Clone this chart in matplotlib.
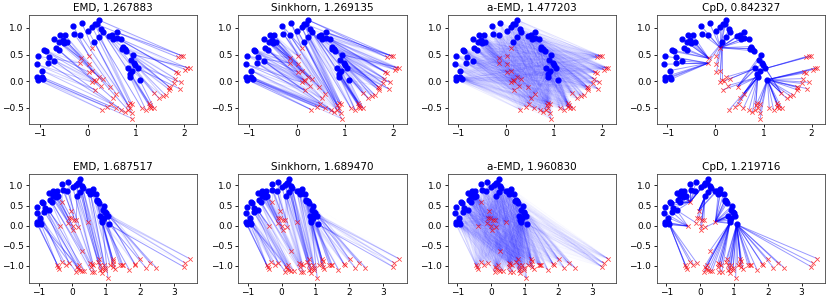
import numpy as np
import matplotlib
matplotlib.use("Agg")
import matplotlib.pyplot as plt
from matplotlib.collections import LineCollection

# source cloud (blue dots), same in both rows
blue_x = [-1.04, -1.06, -0.95, -1.05, -1.04, -0.95, -0.92, -0.90, -0.87, -0.81,
          -0.83, -0.69, -0.66, -0.60, -0.69, -0.57, -0.59, -0.52, -0.47, -0.43,
          -0.50, -0.30, -0.28, -0.15, -0.12, 0.01, 0.10, 0.15, 0.19, 0.23,
          0.28, 0.31, 0.14, 0.23, 0.45, 0.51, 0.60, 0.53, 0.60, 0.69,
          0.73, 0.72, 0.77, 0.80, 0.94, 0.90, 0.97, 0.99, 0.83, 0.92,
          1.04, 0.87, 0.88, 1.08]
blue_y = [0.47, 0.32, 0.20, 0.08, 0.03, 0.08, 0.04, 0.59, 0.56, 0.45,
          0.34, 0.38, 0.63, 0.58, 0.80, 0.86, 0.73, 0.78, 0.87, 0.74,
          0.71, 1.04, 0.89, 0.87, 1.09, 0.95, 1.01, 1.07, 1.07, 1.15,
          0.98, 0.93, 0.73, 0.84, 0.85, 0.87, 0.92, 0.79, 0.81, 0.79,
          0.65, 0.61, 0.61, 0.57, 0.50, 0.40, 0.34, 0.31, 0.24, 0.20,
          0.24, 0.14, 0.08, 0.03]

# target cloud, top row (second moon)
red1_x = [-0.14, -0.15, 0.10, 0.02, 0.02, 0.02, 0.10, 0.23, 0.14, 0.17,
          0.10, 0.31, 0.27, 0.16, 0.46, 0.59, 0.52, 0.48, 0.41, 0.29,
          0.58, 0.70, 0.77, 0.84, 0.87, 0.88, 0.92, 0.83, 0.92, 0.93,
          1.12, 1.21, 1.28, 1.30, 1.29, 1.32, 1.38, 1.37, 1.48, 1.56,
          1.62, 1.70, 1.71, 1.69, 1.80, 1.82, 1.84, 1.88, 1.91, 1.94,
          2.03, 2.07, 2.12, 1.88, 1.95, 1.99]
red1_y = [0.43, 0.34, 0.63, 0.48, 0.33, 0.17, 0.19, 0.08, 0.03, 0.00,
          -0.02, 0.05, -0.08, -0.16, -0.10, -0.23, -0.32, -0.42, -0.48, -0.53,
          -0.51, -0.53, -0.58, -0.44, -0.40, -0.50, -0.43, -0.53, -0.60, -0.70,
          -0.50, -0.54, -0.40, -0.45, -0.48, -0.50, -0.51, -0.22, -0.32, -0.28,
          -0.26, -0.16, -0.12, -0.10, -0.04, 0.05, 0.17, 0.16, -0.14, -0.02,
          0.22, 0.25, 0.25, 0.45, 0.48, 0.47]

# target cloud, bottom row
red2_x = [-0.30, -0.05, -0.10, -0.04, 0.05, 0.11, -0.12, 0.01, 0.03, 0.15,
          0.45, -0.37, 0.28, -0.45, -0.42, -0.39, -0.31, -0.20, -0.10, 0.13,
          0.20, 0.16, 0.23, 0.11, 0.28, 0.35, 0.52, 0.57, 0.54, 0.62,
          0.57, 0.64, 0.75, 0.80, 0.82, 0.87, 0.82, 0.92, 0.97, 0.87,
          0.97, 1.05, 1.11, 1.19, 1.21, 1.19, 1.21, 1.26, 1.41, 1.46,
          1.49, 1.68, 1.84, 1.86, 2.01, 2.17, 2.30, 2.48, 3.29, 3.34, 3.47]
red2_y = [0.59, 0.37, 0.19, 0.20, 0.15, 0.15, 0.07, 0.00, -0.10, -0.04,
          0.10, -0.01, -0.63, -0.98, -1.02, -1.07, -0.90, -0.97, -0.93, -1.02,
          -0.98, -1.07, -1.09, -1.15, -1.13, -1.12, -0.92, -0.94, -1.02, -0.98,
          -1.15, -1.15, -0.90, -0.84, -0.98, -1.07, -1.09, -0.98, -1.04, -1.17,
          -1.11, -1.30, -0.98, -0.94, -1.02, -0.82, -0.88, -1.07, -0.97, -0.98,
          -0.97, -1.09, -0.94, -0.98, -0.84, -1.04, -0.93, -1.04, -1.02, -0.93, -0.82]

methods = ["EMD", "Sinkhorn", "a-EMD", "CpD"]
scores_top = [1.267883, 1.269135, 1.477203, 0.842327]
scores_bottom = [1.687517, 1.689470, 1.960830, 1.219716]


def logsumexp(m, axis):
    mx = m.max(axis=axis, keepdims=True)
    return (mx + np.log(np.exp(m - mx).sum(axis=axis, keepdims=True))).squeeze(axis)


def sinkhorn_plan(X, Y, eps):
    """ entropic OT plan in log domain with eps-scaling, uniform weights """
    C = ((X[:, None, :] - Y[None, :, :]) ** 2).sum(-1)
    la = np.full(len(X), -np.log(len(X)))
    lb = np.full(len(Y), -np.log(len(Y)))
    f = np.zeros(len(X))
    g = np.zeros(len(Y))
    for e in np.geomspace(max(eps, 1.0), eps, 30):
        for _ in range(120):
            f = e * la - e * logsumexp((g[None, :] - C) / e, axis=1)
            g = e * lb - e * logsumexp((f[:, None] - C) / e, axis=0)
    return np.exp((f[:, None] + g[None, :] - C) / eps)


def plan_segments(X, Y, P, amax, cut=1e-3, power=1.0):
    segs, cols = [], []
    w = (P / P.max()) ** power
    for i in range(len(X)):
        for j in range(len(Y)):
            if w[i, j] > cut:
                segs.append([X[i], Y[j]])
                cols.append((0, 0, 1, min(1.0, amax * w[i, j])))
    return segs, cols


def chamfer_segments(X, Y):
    D = ((X[:, None, :] - Y[None, :, :]) ** 2).sum(-1)
    segs = [[X[i], Y[j]] for i, j in enumerate(D.argmin(1))]
    segs += [[X[i], Y[j]] for j, i in enumerate(D.argmin(0))]
    cols = [(0, 0, 1, 0.4)] * len(segs)
    return segs, cols


X = np.column_stack([blue_x, blue_y])
targets = [np.column_stack([red1_x, red1_y]), np.column_stack([red2_x, red2_y])]
scores = [scores_top, scores_bottom]

fig, axes = plt.subplots(2, 4, figsize=(8.3, 3.01), dpi=100)
fig.subplots_adjust(left=0.035, right=0.994, top=0.950, bottom=0.060,
                    wspace=0.244, hspace=0.47)

for r in range(2):
    Y = targets[r]
    for c, name in enumerate(methods):
        ax = axes[r, c]
        if name == "EMD":
            segs, cols = plan_segments(X, Y, sinkhorn_plan(X, Y, 0.002), 0.4, cut=0.05)
        elif name == "Sinkhorn":
            segs, cols = plan_segments(X, Y, sinkhorn_plan(X, Y, 0.02), 0.4, cut=0.01)
        elif name == "a-EMD":
            # wide, faint web plus a few stronger links
            segs, cols = plan_segments(X, Y, sinkhorn_plan(X, Y, 12.0), 0.016, cut=0.0)
            s2, c2 = plan_segments(X, Y, sinkhorn_plan(X, Y, 0.05), 0.08, cut=0.3)
            segs, cols = segs + s2, cols + c2
        else:
            segs, cols = chamfer_segments(X, Y)
        ax.add_collection(LineCollection(segs, colors=cols, linewidths=0.7, zorder=1))
        ax.scatter(X[:, 0], X[:, 1], s=12, c="b", zorder=3)
        ax.scatter(Y[:, 0], Y[:, 1], s=10, c="r", marker="x", linewidths=0.6,
                   alpha=0.7, zorder=3)
        ax.set_title(f"{name}, {scores[r][c]:.6f}", fontsize=7.5, pad=3)
        ax.tick_params(labelsize=6.5, length=2.5, width=0.6, pad=1.5)
        for s in ax.spines.values():
            s.set_linewidth(0.6)
            s.set_color("#444444")
        ax.set_yticks([-1.0, -0.5, 0.0, 0.5, 1.0] if r else [-0.5, 0.0, 0.5, 1.0])

plt.savefig("out.png", dpi=100)
